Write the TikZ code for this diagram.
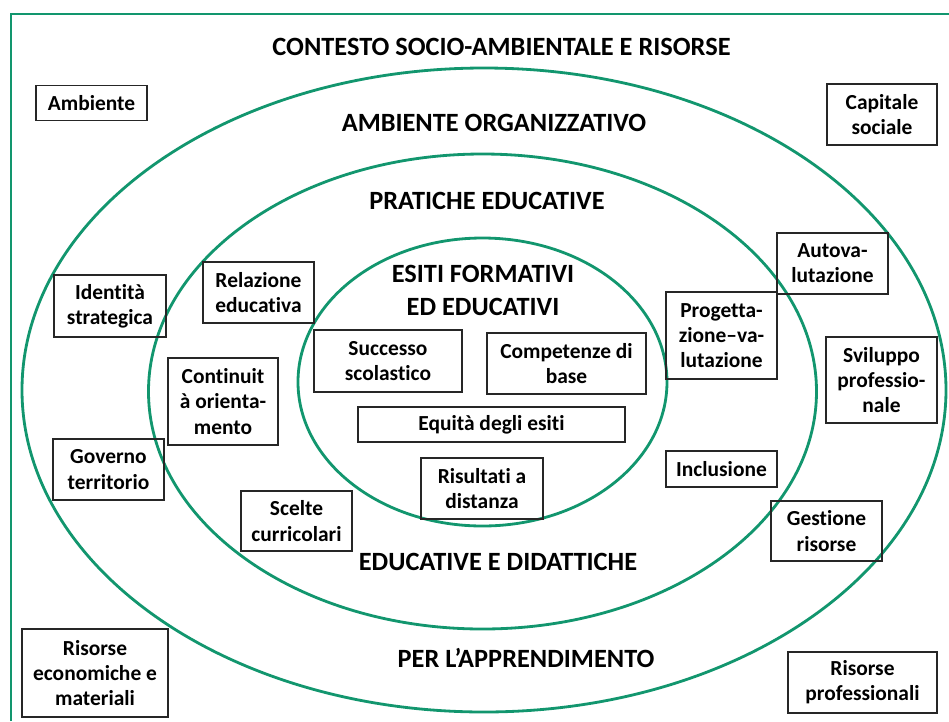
\documentclass[tikz,border=0pt]{standalone}
\usepackage{fontspec}
\setmainfont{Carlito}[Ligatures=NoCommon]
\usepackage{tikz}
\usetikzlibrary{positioning}
\definecolor{ringgreen}{RGB}{18,150,110}

\begin{document}
\begin{tikzpicture}[line width=1pt,
	box/.style={draw=black!85,line width=0.9pt,align=center,inner sep=0pt,
		font=\bfseries\fontsize{12.2}{14.3}\selectfont},
	title/.style={align=center,font=\bfseries\fontsize{15}{18.7}\selectfont},
	ring/.style={draw=ringgreen,line width=1.6pt}]
	\useasboundingbox (0,0) rectangle (18.98,-14.42);
	
	% frame (cut at right and bottom)
	\draw[ringgreen,line width=1.3pt] (0.22,-14.42) -- (0.22,-0.28) -- (18.98,-0.28);
	
	% rings
	\draw[ring] (9.68,-7.80) ellipse (9.24 and 6.44);
	\draw[ring] (9.65,-7.83) ellipse (6.68 and 4.75);
	\draw[ring] (9.65,-7.64) ellipse (3.69 and 2.88);
	
	% ring titles
	\node[title] (contesto) at (10.03,-0.94) {CONTESTO SOCIO-AMBIENTALE E RISORSE};
	\node[title] (ambiente) at (9.88,-2.46) {AMBIENTE ORGANIZZATIVO};
	\node[title] (pratiche) at (9.74,-4.02) {PRATICHE EDUCATIVE};
	\node[title] (esiti) at (9.66,-5.81) {ESITI FORMATIVI\\ED EDUCATIVI};
	\node[title] (didattiche) at (9.96,-11.24) {EDUCATIVE E DIDATTICHE};
	\node[title] (apprend) at (10.52,-13.16) {PER L'APPRENDIMENTO};
	
	% outer context
	\node[box,minimum width=2.22cm,minimum height=0.70cm] (amb) at (1.83,-2.06) {Ambiente};
	\node[box,minimum width=2.20cm,minimum height=1.22cm] (cap) at (17.64,-2.29) {Capitale\\sociale};
	\node[box,minimum width=2.92cm,minimum height=1.76cm] (ecomat) at (1.90,-13.46) {Risorse\\economiche e\\materiali};
	\node[box,minimum width=2.98cm,minimum height=1.22cm] (prof) at (17.25,-13.65) {Risorse\\professionali};
	
	% organizational environment
	\node[box,minimum width=2.24cm,minimum height=1.24cm] (ident) at (2.20,-6.12) {Identità\\strategica};
	\node[box,minimum width=2.22cm,minimum height=1.22cm] (gov) at (2.17,-9.39) {Governo\\territorio};
	\node[box,minimum width=2.22cm,minimum height=1.22cm] (autov) at (16.65,-5.27) {Autova-\\lutazione};
	\node[box,minimum width=2.22cm,minimum height=1.72cm] (svil) at (17.63,-7.60) {Sviluppo\\professio-\\nale};
	\node[box,minimum width=2.22cm,minimum height=1.20cm] (gest) at (16.53,-10.62) {Gestione\\risorse};
	
	% educational practices
	\node[box,minimum width=2.22cm,minimum height=1.22cm] (rel) at (5.17,-5.85) {Relazione\\educativa};
	\node[box,minimum width=2.20cm,minimum height=1.74cm] (cont) at (4.46,-8.03) {Continuit\\à orienta-\\mento};
	\node[box,minimum width=2.22cm,minimum height=1.20cm] (scelte) at (5.93,-10.42) {Scelte\\curricolari};
	\node[box,minimum width=2.22cm,minimum height=1.74cm] (prog) at (14.43,-6.71) {Progetta-\\zione–va-\\lutazione};
	\node[box,minimum width=2.22cm,minimum height=0.72cm] (incl) at (14.43,-9.38) {Inclusione};
	
	% outcomes
	\node[box,minimum width=2.96cm,minimum height=1.24cm] (succ) at (7.76,-7.22) {Successo\\scolastico};
	\node[box,minimum width=3.18cm,minimum height=1.22cm] (comp) at (11.33,-7.27) {Competenze di\\base};
	\node[box,minimum width=5.34cm,minimum height=0.70cm] (equi) at (9.83,-8.49) {Equità degli esiti};
	\node[box,minimum width=2.44cm,minimum height=1.22cm] (dist) at (9.64,-9.77) {Risultati a\\distanza};
\end{tikzpicture}
\end{document}
